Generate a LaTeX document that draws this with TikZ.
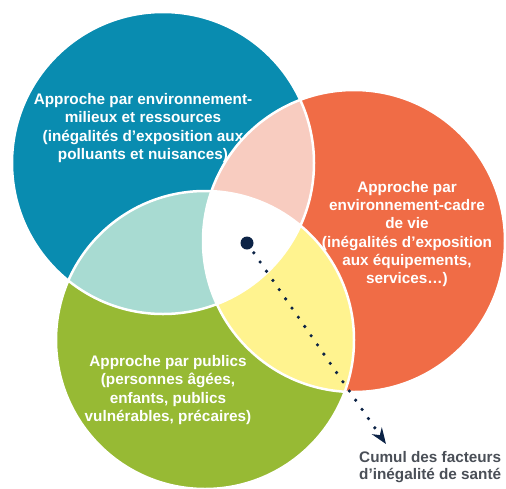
\documentclass[tikz,border=0pt]{standalone}
\usepackage{fontspec}
\setmainfont{Liberation Sans}
\usetikzlibrary{arrows.meta}
\definecolor{cblue}{HTML}{098CB0}
\definecolor{corange}{HTML}{F06C46}
\definecolor{cgreen}{HTML}{97BA34}
\definecolor{cpink}{HTML}{F8CCC0}
\definecolor{cteal}{HTML}{A8DBD2}
\definecolor{cyellow}{HTML}{FFF38F}
\definecolor{cnavy}{HTML}{0C2346}
\definecolor{cgray}{HTML}{4A4F57}
\begin{document}
\begin{tikzpicture}[x=1pt,y=-1pt,
  lbl/.style={text=white,font=\bfseries\fontsize{15.3}{18.3}\selectfont,align=center,inner sep=0pt},
  sep/.style={white,line width=2.5pt}]
\useasboundingbox (0,0) rectangle (506,488);
\coordinate (B) at (163,163);
\coordinate (O) at (354,241);
\coordinate (G) at (205,340);
\def\rB{151}\def\rO{151}\def\rG{149}
% base discs
\fill[cblue] (B) circle[radius=\rB];
\fill[corange] (O) circle[radius=\rO];
\fill[cgreen] (G) circle[radius=\rG];
% pairwise overlaps
\begin{scope}
  \clip (B) circle[radius=\rB];
  \fill[cpink] (O) circle[radius=\rO];
  \fill[cteal] (G) circle[radius=\rG];
\end{scope}
\begin{scope}
  \clip (O) circle[radius=\rO];
  \fill[cyellow] (G) circle[radius=\rG];
\end{scope}
% triple overlap
\begin{scope}
  \clip (B) circle[radius=\rB];
  \clip (O) circle[radius=\rO];
  \fill[white] (G) circle[radius=\rG];
\end{scope}
% separating outlines
\draw[sep] (B) circle[radius=\rB];
\draw[sep] (O) circle[radius=\rO];
\draw[sep] (G) circle[radius=\rG];
% texts
\node[lbl] (tB) at (143,128) {Approche par environnement-\\milieux et ressources\\(inégalités d’exposition aux\\polluants et nuisances)};
\node[lbl] (tO) at (407,234) {Approche par\\environnement-cadre\\de vie\\(inégalités d’exposition\\aux équipements,\\services…)};
\node[lbl] (tG) at (168,390) {Approche par publics\\(personnes âgées,\\enfants, publics\\vulnérables, précaires)};
% dot and arrow
\node[circle,fill=cnavy,minimum size=13pt,inner sep=0pt] (dot) at (247,243) {};
\coordinate (tip) at (386,444);
\draw[cnavy,line width=3.6pt,line cap=round,dash pattern=on 0pt off 11.2pt,dash phase=6pt,
  -{Stealth[length=16pt,width=12pt]}] (dot) -- (tip);
\node[anchor=west,align=left,inner sep=0pt,text=cgray,
  font=\bfseries\fontsize{15.3}{17}\selectfont] (cumul) at (359,467) {Cumul des facteurs\\d’inégalité de santé};
\end{tikzpicture}
\end{document}
